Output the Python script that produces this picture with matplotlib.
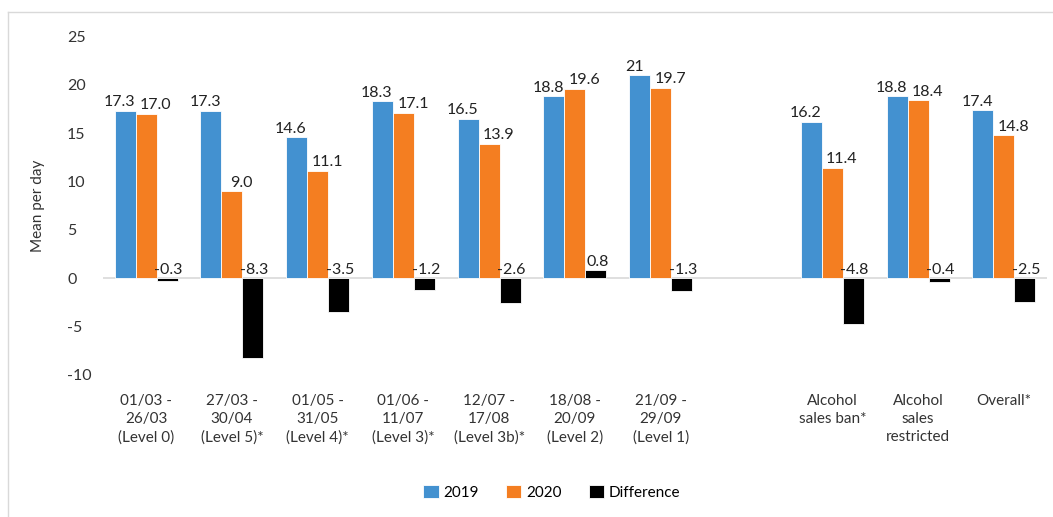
import numpy as np
import matplotlib.pyplot as plt
from matplotlib.lines import Line2D

# ── Data ────────────────────────────────────────────────────
categories = [
    "01/03 -\n26/03\n(Level 0)",
    "27/03 -\n30/04\n(Level 5)*",
    "01/05 -\n31/05\n(Level 4)*",
    "01/06 -\n11/07\n(Level 3)*",
    "12/07 -\n17/08\n(Level 3b)*",
    "18/08 -\n20/09\n(Level 2)",
    "21/09 -\n29/09\n(Level 1)",
    "",
    "Alcohol\nsales ban*",
    "Alcohol\nsales\nrestricted",
    "Overall*",
]
vals_2019 = [17.3, 17.3, 14.6, 18.3, 16.5, 18.8, 21.0, None, 16.2, 18.8, 17.4]
vals_2020 = [17.0, 9.0, 11.1, 17.1, 13.9, 19.6, 19.7, None, 11.4, 18.4, 14.8]
vals_diff = [-0.3, -8.3, -3.5, -1.2, -2.6, 0.8, -1.3, None, -4.8, -0.4, -2.5]
labels_2019 = ["17.3", "17.3", "14.6", "18.3", "16.5", "18.8", "21", "", "16.2", "18.8", "17.4"]

COL_2019 = "#4391D0"
COL_2020 = "#F47E21"
COL_DIFF = "#000000"

plt.rcParams["font.family"] = ["Lato", "DejaVu Sans"]
plt.rcParams["axes.unicode_minus"] = False

fig = plt.figure(figsize=(10.53, 5.17), dpi=100)
ax = fig.add_axes([0.098, 0.2754, 0.896, 0.654])

x = np.arange(len(categories))
w = 0.245


def clean(v):
    return [np.nan if a is None else a for a in v]


series = [
    (clean(vals_2019), COL_2019, "2019", -w, -4),
    (clean(vals_2020), COL_2020, "2020", 0.0, 7),
    (clean(vals_diff), COL_DIFF, "Difference", w, 1),
]

for vals, col, name, off, dx in series:
    ax.bar(x + off, vals, width=w, color=col, edgecolor="white",
           linewidth=0.6, label=name, zorder=3)
    for i, v in enumerate(vals):
        if np.isnan(v):
            continue
        txt = labels_2019[i] if name == "2019" else f"{v:.1f}"
        y = max(v, 0)
        ax.annotate(txt, (x[i] + off, y), xytext=(dx, 1.0),
                    textcoords="offset points", ha="center", va="bottom",
                    fontsize=11.5, color="#222222", zorder=5)

ax.axhline(0, color="#D9D9D9", linewidth=1.2, zorder=1)

ax.set_xlim(-0.5, len(categories) - 0.5)
ax.set_ylim(-10, 25)
ax.set_yticks([-10, -5, 0, 5, 10, 15, 20, 25])
ax.set_xticks(x)
ax.set_xticklabels(categories, fontsize=11, color="#333333", linespacing=1.38)
ax.tick_params(axis="x", length=0, pad=14)
ax.tick_params(axis="y", length=0, pad=26, labelsize=11.5, labelcolor="#333333")
for lbl in ax.get_yticklabels():
    lbl.set_horizontalalignment("left")
ax.set_ylabel("Mean per day", fontsize=11, color="#333333")
ax.yaxis.set_label_coords(-0.062, 0.5)

for s in ax.spines.values():
    s.set_visible(False)

fig.legend(loc="center", bbox_to_anchor=(0.524, 0.048), ncol=3, frameon=False,
           fontsize=11, handlelength=1.0, handleheight=1.0, columnspacing=1.8,
           handletextpad=0.3)

# light frame lines as in the source image
fig.add_artist(Line2D([8 / 1053, 8 / 1053], [0, 1 - 12 / 517],
                      transform=fig.transFigure, color="#D9D9D9", linewidth=1))
fig.add_artist(Line2D([8 / 1053, 1], [1 - 12 / 517, 1 - 12 / 517],
                      transform=fig.transFigure, color="#D9D9D9", linewidth=1))

plt.savefig("out.png", dpi=100)
